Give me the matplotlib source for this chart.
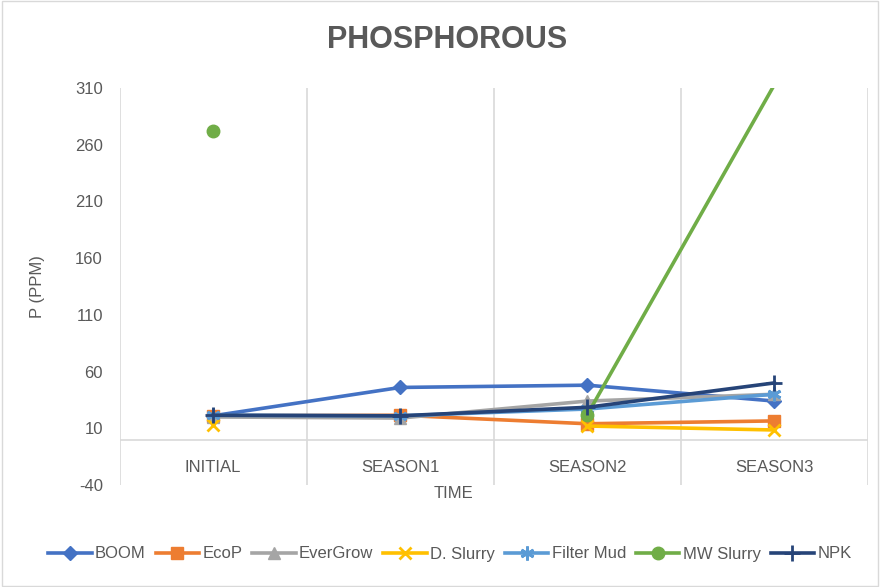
import matplotlib
matplotlib.use("Agg")
import matplotlib.pyplot as plt
import numpy as np

plt.rcParams['font.family'] = ['Liberation Sans', 'DejaVu Sans']
plt.rcParams['axes.unicode_minus'] = False

categories = ["INITIAL", "SEASON1", "SEASON2", "SEASON3"]
series_names = ["BOOM", "EcoP", "EverGrow", "D. Slurry", "Filter Mud", "MW Slurry", "NPK"]
boom = [21, 46, 48, 34]
ecop = [21, 21.5, 14, 16.5]
evergrow = [20, 19, 34, 40]
d_slurry = [13, None, 12, 8.5]
filter_mud = [21.5, 21, 27, 40]
mw_slurry = [272, None, 22, 313]
npk = [21.5, 21, 28.5, 50]
yticks = [-40, 10, 60, 110, 160, 210, 260, 310]

values = [boom, ecop, evergrow, d_slurry, filter_mud, mw_slurry, npk]
colors = ["#4472C4", "#ED7D31", "#A5A5A5", "#FFC000", "#5B9BD5", "#70AD47", "#264478"]
markers = ["D", "s", "^", "x", (6, 2, 0), "o", "+"]
msizes = [7, 8, 8, 9, 10, 9, 11]

YMIN, YMAX = -40, 310

fig = plt.figure(figsize=(8.8, 5.87), dpi=100)
ax = fig.add_axes([119.5/880, 1-485/587, (868-119.5)/880, (485-88)/587])

x = np.arange(len(categories))
for name, vals, c, m, ms in zip(series_names, values, colors, markers, msizes):
    y = np.array([np.nan if v is None else v for v in vals], dtype=float)
    shown = [i for i, v in enumerate(vals) if v is not None and YMIN <= v <= YMAX]
    thin = m in ("x", "+") or isinstance(m, tuple)
    ax.plot(x, y, color=c, lw=2.6, marker=m, markersize=ms, markevery=shown,
            markeredgewidth=2 if thin else 1,
            markerfacecolor=c, markeredgecolor=c, label=name, zorder=3)

ax.set_xlim(-0.5, len(categories) - 0.5)
ax.set_ylim(YMIN, YMAX)
ax.set_yticks(yticks)
ax.set_xticks([])
for xv in np.arange(-0.5, len(categories), 1.0):
    ax.axvline(xv, color="#D9D9D9", lw=1.2, zorder=1)
ax.axhline(0, color="#D9D9D9", lw=1.2, zorder=1)
for s in ax.spines.values():
    s.set_visible(False)
ax.tick_params(axis='y', length=0, labelsize=12, labelcolor="#595959", pad=12)
for i, c in enumerate(categories):
    ax.text(i, -25, c, ha="center", va="center", fontsize=12, color="#595959")

ax.set_ylabel("P (PPM)", fontsize=12, color="#595959")
ax.yaxis.set_label_coords((45 - 119.5) / 748.5, 0.5)
fig.text(453/880, 1-494/587, "TIME", ha="center", va="center", fontsize=12, color="#595959")
fig.text(447/880, 1-40/587, "PHOSPHOROUS", ha="center", va="center", fontsize=22,
         fontweight="bold", color="#595959")

leg = fig.legend(loc="center", bbox_to_anchor=(450/880, 1-554/587), ncol=7, frameon=False,
                 fontsize=12, handlelength=2.6, columnspacing=0.6, handletextpad=0.2,
                 labelcolor="#595959")

border = plt.Rectangle((0.002, 0.002), 0.996, 0.996, transform=fig.transFigure, fill=False,
                       edgecolor="#D9D9D9", lw=1)
fig.add_artist(border)

fig.savefig("out.png", dpi=100)
